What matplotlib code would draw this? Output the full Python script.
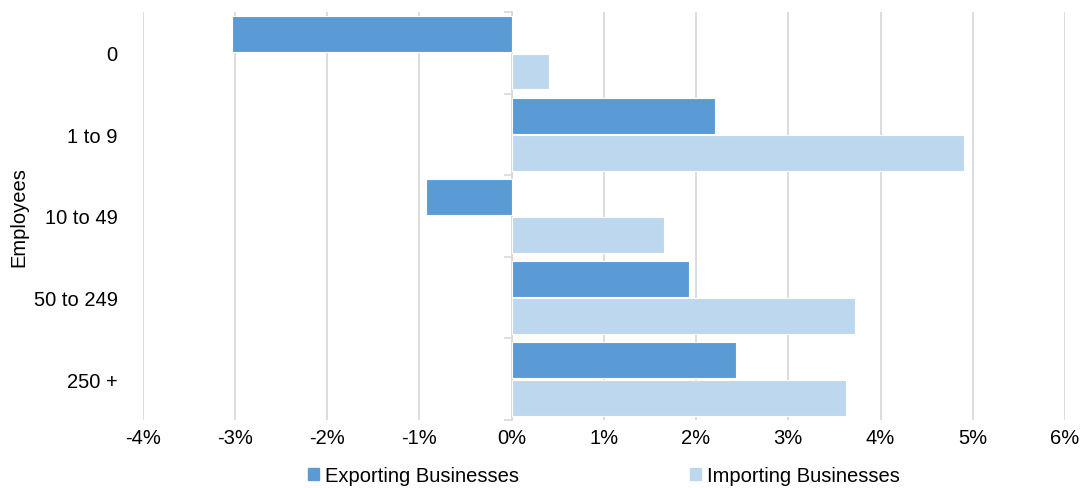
import matplotlib.pyplot as plt
import numpy as np
from matplotlib.patches import Patch
from matplotlib.ticker import FuncFormatter

plt.rcParams['font.family'] = ['Liberation Sans', 'DejaVu Sans']

categories = ['0', '1 to 9', '10 to 49', '50 to 249', '250 +']
exporting = [-3.03, 2.21, -0.93, 1.92, 2.43]
importing = [0.41, 4.90, 1.65, 3.72, 3.63]
series_names = ['Exporting Businesses', 'Importing Businesses']

col_exp = '#5b9bd5'
col_imp = '#bdd7ee'
grid_col = '#d9d9d9'

fig = plt.figure(figsize=(10.82, 4.89), dpi=100)
ax = fig.add_axes([0.1318, 0.139, 0.8525, 0.8345])

y = np.arange(len(categories))
h = 0.44
ax.barh(y - h / 2 - 0.01, exporting, height=h, color=col_exp,
        edgecolor='white', linewidth=0.8, zorder=3)
ax.barh(y + h / 2 + 0.01, importing, height=h, color=col_imp,
        edgecolor='white', linewidth=0.8, zorder=3)

ax.set_xlim(-4, 6)
ax.set_ylim(len(categories) - 0.5, -0.5)
ax.set_xticks(np.arange(-4, 7, 1))
ax.xaxis.set_major_formatter(FuncFormatter(lambda v, p: f'{v:.0f}%'))
ax.set_yticks(y)
ax.set_yticklabels(categories)
ax.tick_params(axis='both', length=0, labelsize=14.5, colors='black')
ax.tick_params(axis='x', pad=6)
ax.tick_params(axis='y', pad=18)
ax.grid(axis='x', color=grid_col, linewidth=1.3, zorder=0)
for s in ax.spines.values():
    s.set_visible(False)

# category axis crossing at 0%
sec = ax.secondary_yaxis(0, transform=ax.transData)
sec.set_yticks(np.arange(-0.5, len(categories), 1))
sec.set_yticklabels([])
sec.tick_params(length=6, color=grid_col, width=1.2)
sec.spines['left'].set_color(grid_col)
sec.spines['left'].set_linewidth(1.2)

ax.set_ylabel('Employees', fontsize=14.5, labelpad=4)

handles = [Patch(color=col_exp), Patch(color=col_imp)]
fig.legend(handles, series_names, loc='center', ncol=2,
           bbox_to_anchor=(0.558, 0.025), frameon=False, fontsize=14.5,
           handlelength=0.55, handleheight=0.55, handletextpad=0.3,
           columnspacing=8.5)

fig.savefig('out.png', dpi=100)
